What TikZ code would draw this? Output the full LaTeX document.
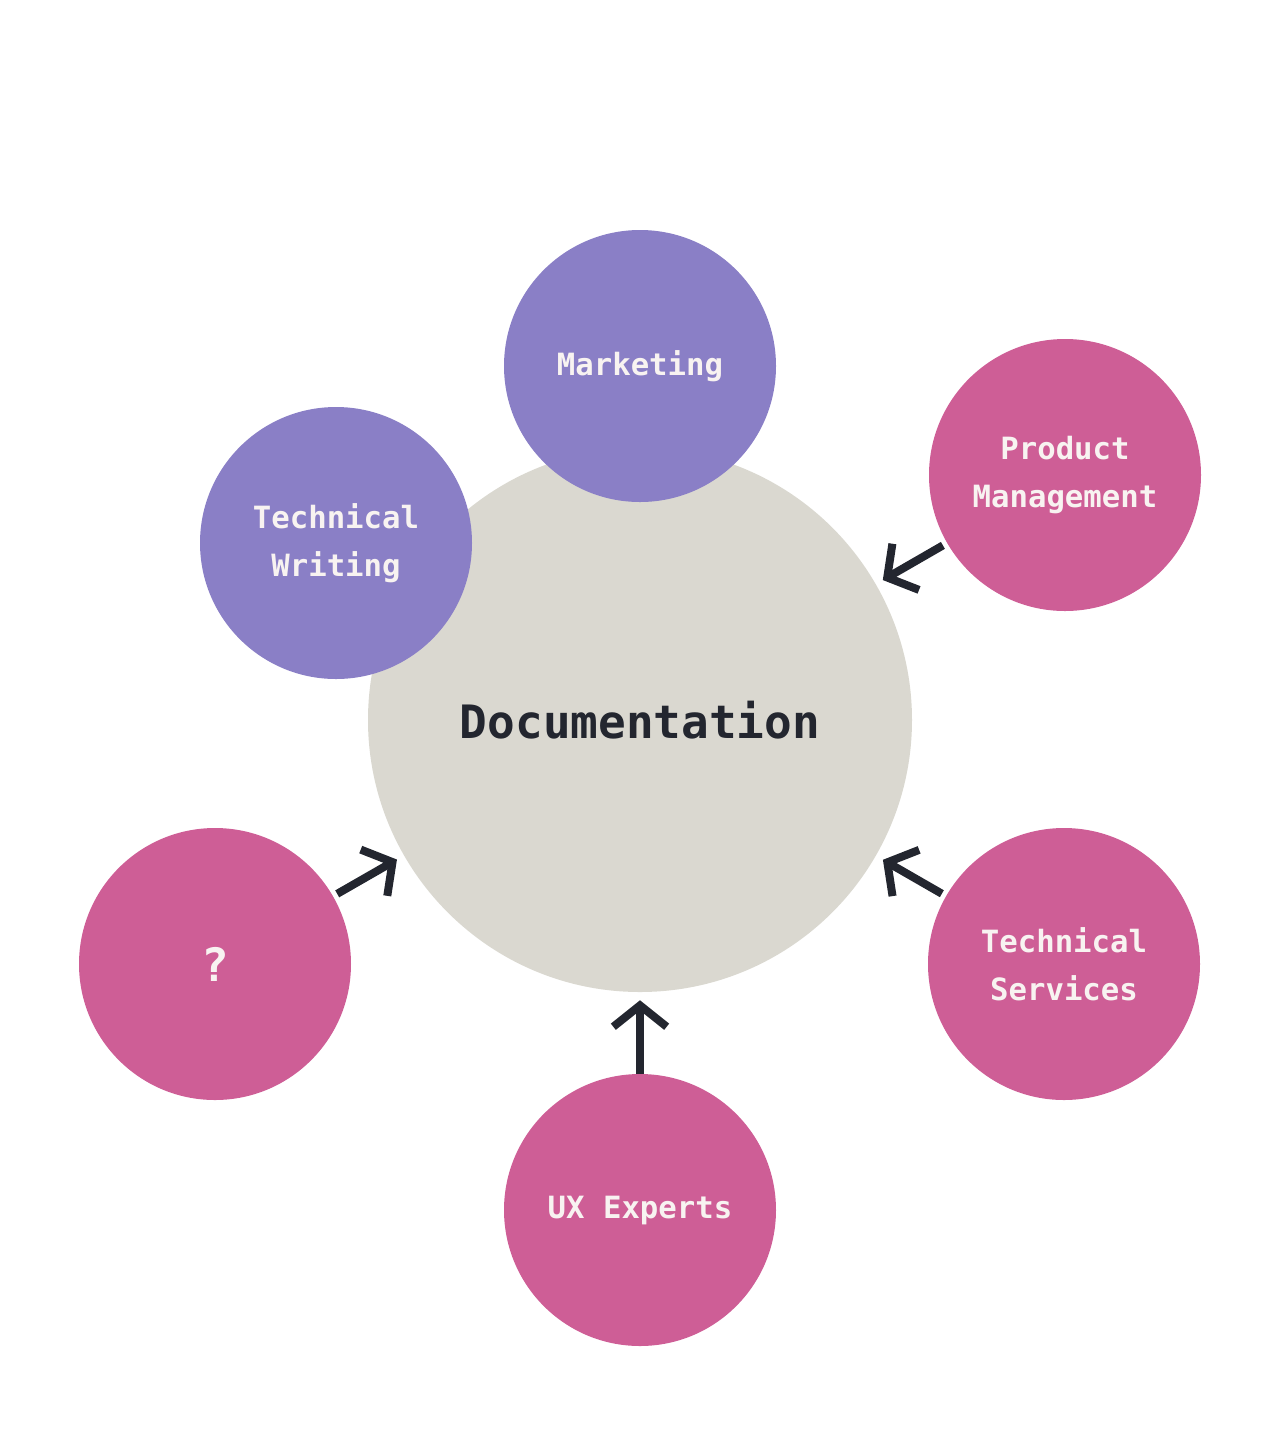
\documentclass[tikz,border=0pt]{standalone}
\usepackage{fontspec}
\setmonofont{DejaVu Sans Mono}
\usetikzlibrary{arrows.meta}
\definecolor{hubgrey}{HTML}{DAD8D0}
\definecolor{teampurple}{HTML}{8A7FC6}
\definecolor{teampink}{HTML}{CE5E96}
\definecolor{inkdark}{HTML}{23262F}
\definecolor{labelwhite}{HTML}{F8F3F1}
\begin{document}
\begin{tikzpicture}[x=0.75pt,y=-0.75pt,
  hub/.style={circle,fill=hubgrey,minimum size=408pt,inner sep=0pt,
    font=\ttfamily\bfseries\fontsize{34.5}{40}\selectfont,text=inkdark},
  team/.style={circle,minimum size=204pt,inner sep=0pt,align=center,
    font=\ttfamily\bfseries\fontsize{23}{36}\selectfont,text=labelwhite},
  core/.style={team,fill=teampurple},
  contrib/.style={team,fill=teampink},
  feeds/.style={draw=inkdark,line width=6pt,
    -{Straight Barb[length=16pt,width=40pt,line width=6pt]},
    shorten <=3.5pt,shorten >=6pt}
]
\useasboundingbox (0,0) rectangle (1280,1440);

\node[hub] (doc) at (640,720) {Documentation};

\node[core] (mkt) at (640,366) {Marketing};
\node[core] (tw) at (336,543) {Technical\\Writing};

\node[contrib] (pm) at (1065,475) {Product\\Management};
\node[contrib] (ts) at (1064,964) {Technical\\Services};
\node[contrib] (ux) at (640,1210) {UX Experts};
\node[contrib,font=\ttfamily\bfseries\fontsize{34.5}{40}\selectfont] (unk) at (215,964) {?};

\draw[feeds] (pm) -- (doc);
\draw[feeds] (ts) -- (doc);
\draw[feeds,shorten <=0pt] (ux) -- (doc);
\draw[feeds] (unk) -- (doc);
\end{tikzpicture}
\end{document}
